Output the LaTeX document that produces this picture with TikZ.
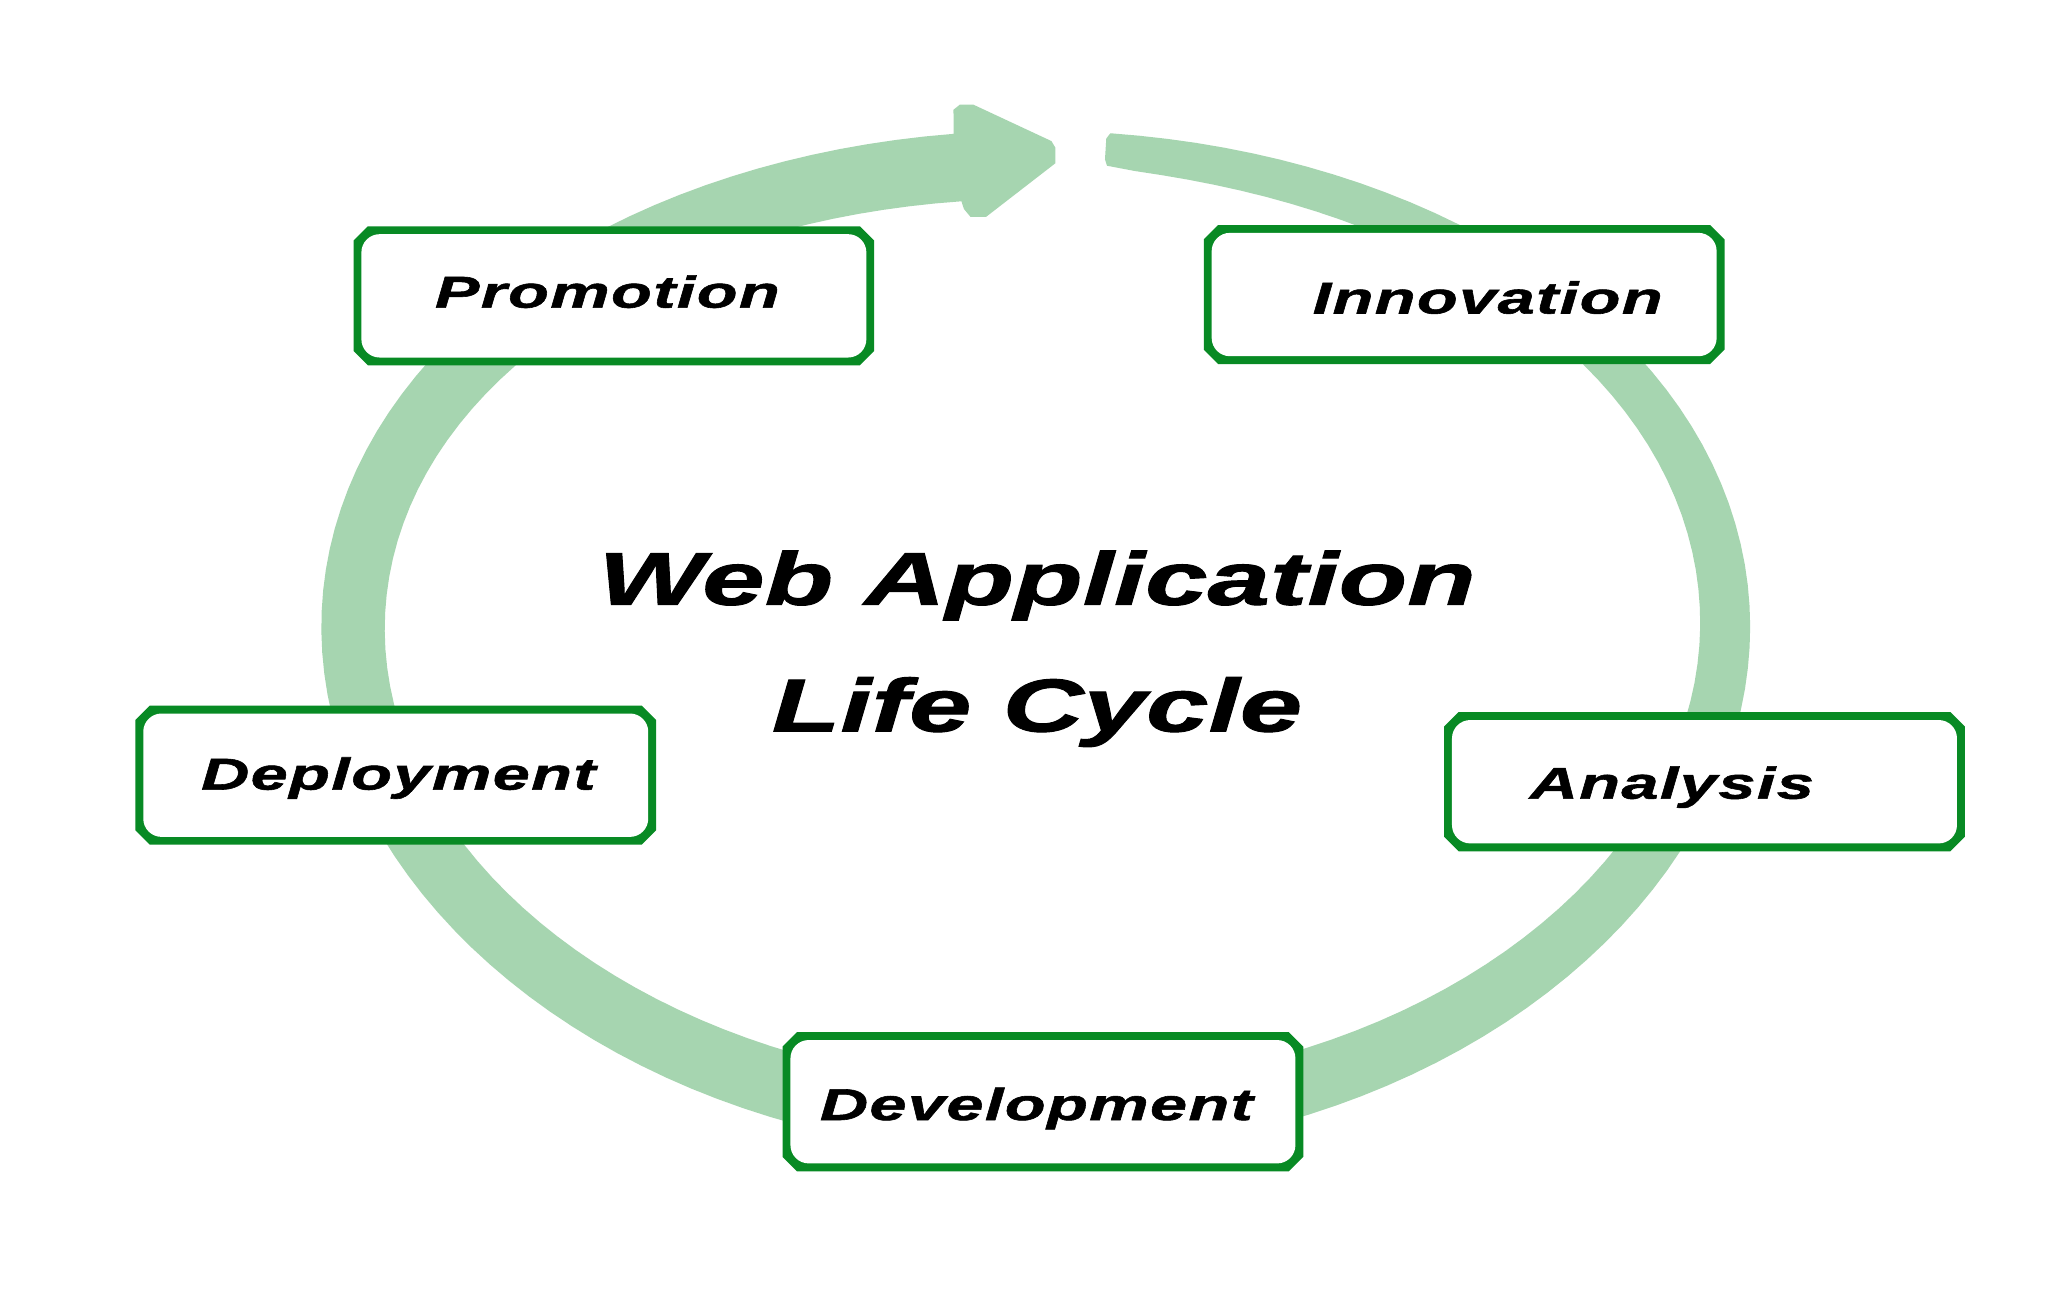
\documentclass[tikz,border=0pt]{standalone}
\usepackage{fontspec}
\newfontfamily\labelfont[FakeStretch=1.5,LetterSpace=3,FakeBold=1.3]{Liberation Sans}
\newfontfamily\titlefont[FakeStretch=1.5,FakeBold=1.3]{Liberation Sans}
\definecolor{ringgreen}{RGB}{166,213,176}
\definecolor{boxgreen}{RGB}{8,138,36}
\begin{document}
\begin{tikzpicture}[x=0.01cm,y=-0.01cm,
  stepbox/.style={rectangle,minimum width=3.97cm,minimum height=1.05cm,inner sep=0pt},
  steptext/.style={anchor=base,inner sep=0pt,font=\labelfont\bfseries\itshape\fontsize{9.7}{11}\selectfont},
  titletext/.style={anchor=base,inner sep=0pt,font=\titlefont\bfseries\itshape\fontsize{16.3}{19}\selectfont},
  declare function={ringb(\t)=392.5+12.5*sin(\t); ringw(\t)=25+27*sqrt(max(0,(\t+84)/347.4))+8*(max(0,sin(\t)))^2;}]
\useasboundingbox[fill=white] (0,0) rectangle (1568,1002);

% ring arrow
\fill[ringgreen]
  plot[domain=-84:263.4,samples=150,variable=\t] ({793+547*cos(\t)},{480+ringb(\t)*sin(\t)})
  -- (730,84) -- (735,80) -- (745,80) -- (805,108) -- (808,113) -- (808,125) -- (755,166) -- (743,166) -- (738,160)
  -- plot[domain=263.4:-84,samples=150,variable=\t] ({793+(547-ringw(\t))*cos(\t)},{480+(ringb(\t)-ringw(\t))*sin(\t)})
  -- (846,122) -- (847,106) -- cycle;

% boxes
\node[stepbox] (promo)  at (470,226.5) {};
\node[stepbox] (innov)  at (1121,225.5) {};
\node[stepbox] (deploy) at (303,593.5) {};
\node[stepbox] (analy)  at (1305,598.5) {};
\node[stepbox] (devel)  at (798.5,843.5) {};

\foreach \n in {promo,innov,deploy,analy,devel}{
  \fill[boxgreen]
    ([xshift=0.11cm]\n.north west) -- ([xshift=-0.11cm]\n.north east)
    -- ([yshift=-0.11cm]\n.north east) -- ([yshift=0.11cm]\n.south east)
    -- ([xshift=-0.11cm]\n.south east) -- ([xshift=0.11cm]\n.south west)
    -- ([yshift=0.11cm]\n.south west) -- ([yshift=-0.11cm]\n.north west) -- cycle;
  \fill[white,rounded corners=0.14cm]
    ([shift={(0.06cm,-0.06cm)}]\n.north west) rectangle ([shift={(-0.06cm,0.06cm)}]\n.south east);
}

% labels
\node[steptext] (promot)  at (465,235.5) {Promotion};
\node[steptext] (innovt)  at (1139,240) {Innovation};
\node[steptext] (deployt) at (305,604.5) {Deployment};
\node[steptext] (analyt)  at (1280,611.5) {Analysis};
\node[steptext] (develt)  at (793.5,857.5) {Development};

% title
\node[titletext] (title1) at (794,463) {Web Application};
\node[titletext] (title2) at (794,560) {Life Cycle};
\end{tikzpicture}
\end{document}
